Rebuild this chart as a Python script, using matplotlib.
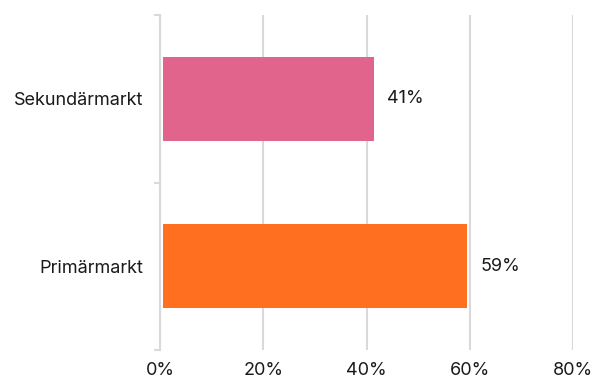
import matplotlib
matplotlib.use("Agg")
import matplotlib.pyplot as plt
from matplotlib.ticker import FixedLocator

plt.rcParams['font.family'] = ['Inter', 'DejaVu Sans']

categories = ["Primärmarkt", "Sekundärmarkt"]
values = [59, 41]
colors = ["#FF6F1F", "#E0648B"]
xticks = [0, 20, 40, 60, 80]
xticklabels = ["0%", "20%", "40%", "60%", "80%"]

fig = plt.figure(figsize=(5.95, 3.78), dpi=100)
ax = fig.add_axes([160/595, 1-350/378, (573-160)/595, (350-15)/378])

ypos = list(range(len(categories)))
ax.barh(ypos, values, height=0.5, color=colors, left=0.5, zorder=3)
for y, v in zip(ypos, values):
    ax.text(v + 3, y, f"{v}%", va="center", ha="left", fontsize=13, color="#1a1a1a")

ax.set_xlim(0, 80)
ax.set_ylim(-0.5, len(categories) - 0.5)
ax.set_xticks(xticks)
ax.set_xticklabels(xticklabels, fontsize=13, color="#1a1a1a")
ax.set_yticks(ypos)
ax.set_yticklabels(categories, fontsize=13, color="#1a1a1a")
ax.tick_params(axis="y", length=0, pad=12)
ax.tick_params(axis="x", length=0, pad=8.5)
ax.yaxis.set_minor_locator(FixedLocator([-0.5, 0.5, 1.5]))
ax.tick_params(axis="y", which="minor", length=4, color="#D9D9D9", width=1.5)

ax.grid(axis="x", color="#D9D9D9", linewidth=1.5, zorder=0)
for s in ["top", "right", "bottom"]:
    ax.spines[s].set_visible(False)
ax.spines["left"].set_color("#D9D9D9")
ax.spines["left"].set_linewidth(1.5)

fig.savefig("out.png", dpi=100)
